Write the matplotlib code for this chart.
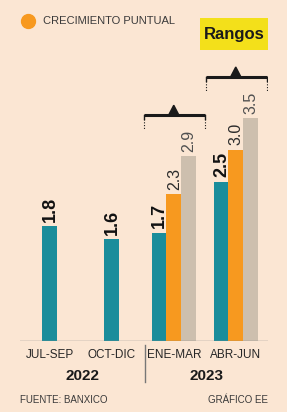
import numpy as np
import matplotlib.pyplot as plt
from matplotlib.lines import Line2D
from matplotlib.patches import Polygon, Rectangle

# datos
periodos = ['JUL-SEP', 'OCT-DIC', 'ENE-MAR', 'ABR-JUN']
anios = ['2022', '2023']
anual = [1.8, 1.6, 1.7, 2.5]
puntual = [np.nan, np.nan, 2.3, 3.0]
rango_alto = [np.nan, np.nan, 2.9, 3.5]

plt.rcParams['font.family'] = ['Liberation Sans', 'DejaVu Sans']

bg = '#fbe6d3'
teal = '#1a8d9b'
naranja = '#f7991f'
gris = '#cdbfae'
texto = '#2b2b2b'

W, H = 287, 412
fig = plt.figure(figsize=(W / 100, H / 100), dpi=100)
fig.patch.set_facecolor(bg)


def fx(px):
    return px / W


def fy(py):
    return 1 - py / H


ax = fig.add_axes([fx(20), fy(341), fx(268) - fx(20), fy(60) - fy(341)])
ax.set_facecolor(bg)
ax.set_xlim(-0.48, 3.52)
ax.set_ylim(0, 4.41)
ax.axis('off')
ax.axhline(0, color='#8a8a8a', lw=1)

w = 0.235
x = np.arange(len(periodos))
for i in x:
    grupo = not np.isnan(puntual[i])
    xt = i - w if grupo else i
    ax.bar(xt, anual[i], w, color=teal)
    ax.text(xt + 0.01, anual[i] + 0.07, f'{anual[i]:.1f}', rotation=90, ha='center', va='bottom',
            fontsize=13, fontweight='bold', color='#111111')
    if grupo:
        ax.bar(i, puntual[i], w, color=naranja)
        ax.text(i + 0.01, puntual[i] + 0.07, f'{puntual[i]:.1f}', rotation=90, ha='center',
                va='bottom', fontsize=11.5, color=texto)
        ax.bar(i + w, rango_alto[i], w, color=gris)
        ax.text(i + w + 0.01, rango_alto[i] + 0.07, f'{rango_alto[i]:.1f}', rotation=90,
                ha='center', va='bottom', fontsize=11.5, color='#505050')
        # corchete de rango
        yb = rango_alto[i] + 0.65
        ax.plot([i - 0.48, i + 0.5], [yb, yb], color='#1a1a1a', lw=2.2, solid_capstyle='butt')
        for xe in (i - 0.48, i + 0.5):
            ax.plot([xe, xe], [yb, yb - 0.07], color='#1a1a1a', lw=1)
            ax.plot([xe, xe], [yb - 0.07, yb - 0.24], color='#1a1a1a', lw=0.8, ls=(0, (1, 1.5)))
        ax.add_patch(Polygon([[i - 0.08, yb], [i + 0.08, yb], [i, yb + 0.15]],
                             closed=True, color='#1a1a1a', clip_on=False))

# leyenda
fig.add_artist(Line2D([fx(28)], [fy(21)], marker='o', markersize=10, color=naranja, lw=0))
fig.text(fx(43), fy(21), 'CRECIMIENTO PUNTUAL', ha='left', va='center', fontsize=8, color='#3a3a3a')
fig.add_artist(Rectangle((fx(200), fy(50)), fx(68), 32 / H, transform=fig.transFigure,
                         fc='#f3e01a', ec='none'))
fig.text(fx(234), fy(34), 'Rangos', ha='center', va='center', fontsize=12, fontweight='bold',
         color='#1a1a1a')

# etiquetas de eje
for i, p in enumerate(periodos):
    xc = 50 + 62 * i
    fig.text(fx(xc), fy(355), p, ha='center', va='center', fontsize=8.5, color='#262626')
for a, xc in zip(anios, (82, 207)):
    fig.text(fx(xc), fy(376), a, ha='center', va='center', fontsize=11, fontweight='bold',
             color='#1a1a1a')
fig.add_artist(Line2D([fx(145), fx(145)], [fy(345), fy(382)], color='#777777', lw=1))

fig.text(fx(20), fy(400), 'FUENTE: BANXICO', ha='left', va='center', fontsize=7, color='#3a3a3a')
fig.text(fx(268), fy(400), 'GRÁFICO EE', ha='right', va='center', fontsize=7, color='#3a3a3a')

fig.savefig('out.png', dpi=100, facecolor=bg)
